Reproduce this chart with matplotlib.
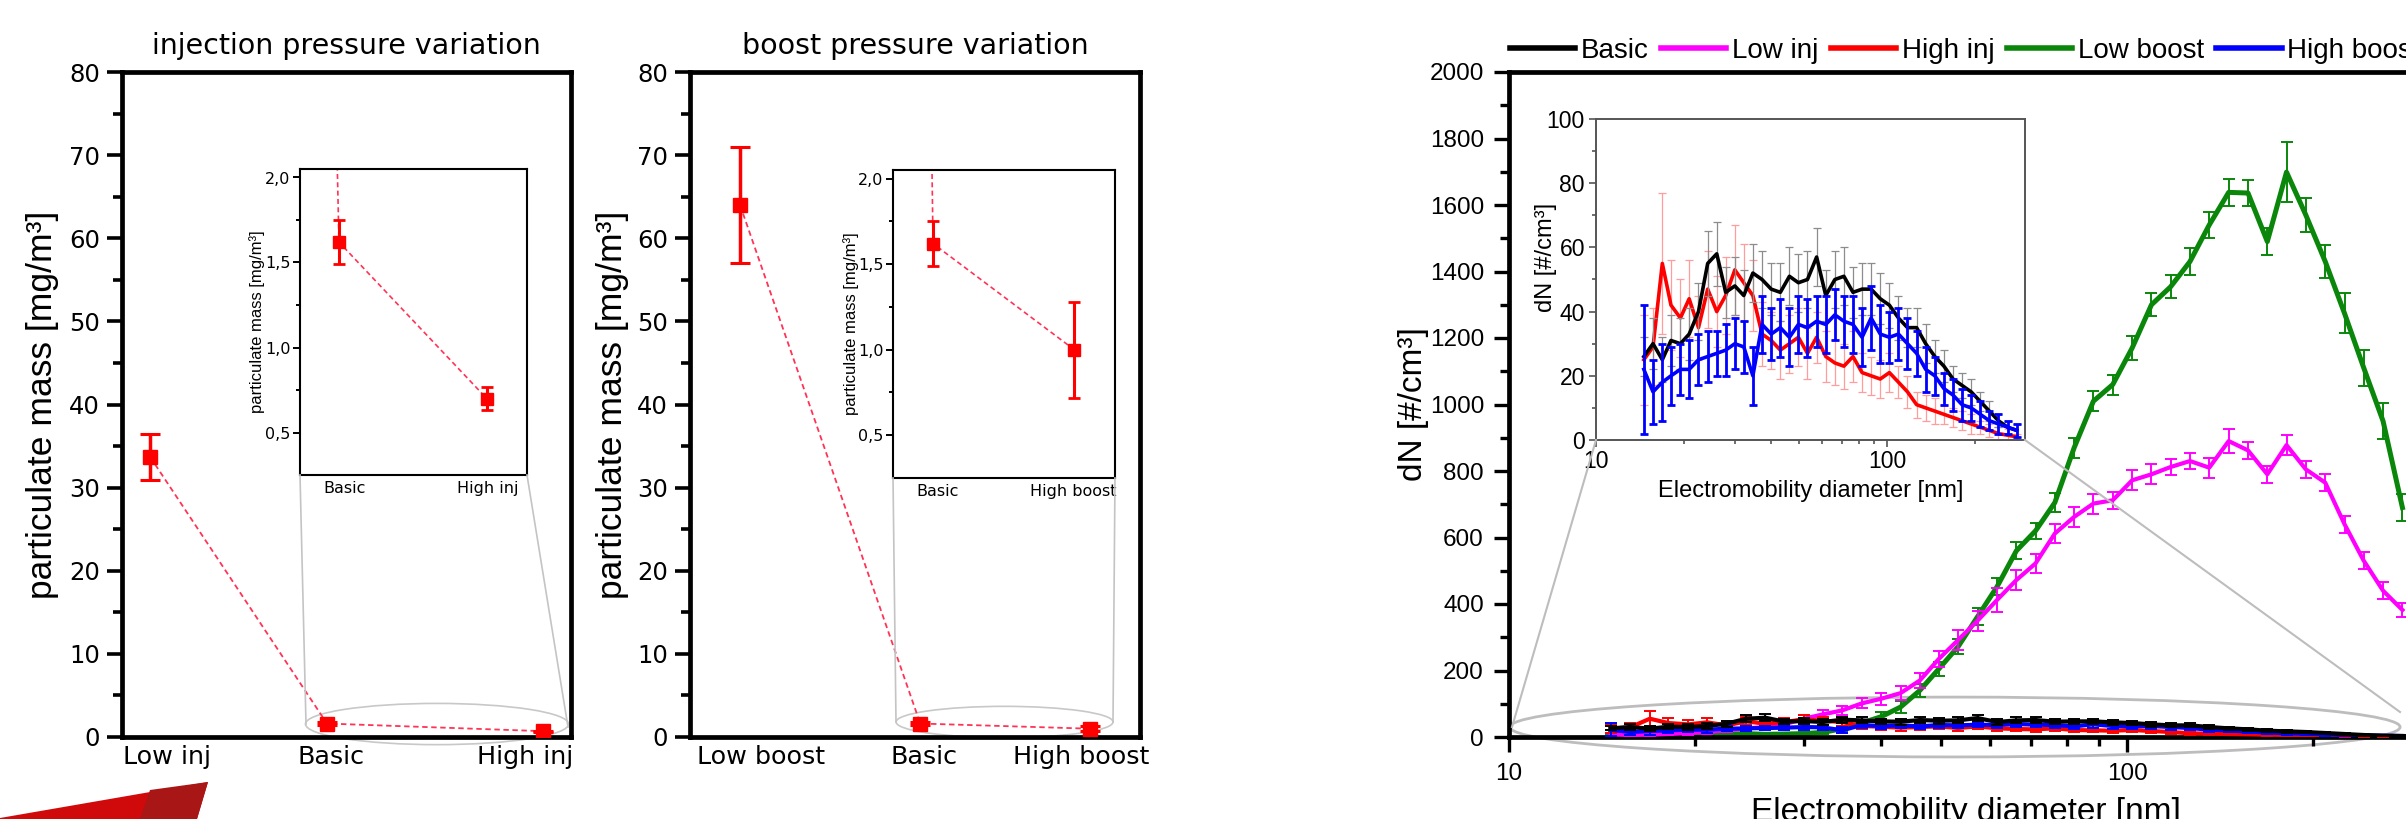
import matplotlib
matplotlib.use('Agg')
import matplotlib.pyplot as plt
from matplotlib.patches import Ellipse, Polygon
from matplotlib.lines import Line2D
from matplotlib.ticker import MultipleLocator, FixedLocator, FuncFormatter, NullFormatter

plt.rcParams['font.family'] = ['DejaVu Sans']

# ---------------- data ----------------
inj_labels = ['Low inj', 'Basic', 'High inj']
inj_x = [1.0, 1.9, 3.0]
inj_mass = [33.7, 1.62, 0.70]
inj_err = [2.8, 0.13, 0.07]

boost_labels = ['Low boost', 'Basic', 'High boost']
boost_x = [1.0, 2.03, 3.0]
boost_mass = [64.0, 1.62, 1.00]
boost_err = [7.0, 0.13, 0.28]

diam = [14.6, 15.7, 16.9, 18.1, 19.5, 20.9, 22.5, 24.2, 26.0, 27.9,
        30.0, 32.2, 34.6, 37.2, 40.0, 43.0, 46.2, 49.6, 53.3, 57.3,
        61.6, 66.2, 71.1, 76.4, 82.1, 88.2, 94.8, 101.9, 109.5, 117.6,
        126.4, 135.8, 146.0, 156.9, 168.6, 181.1, 194.6, 209.2, 224.8, 241.5,
        259.5, 278.9]

dn_basic = [26, 30, 25, 31, 30, 33, 40, 55, 58, 46,
            48, 45, 52, 50, 47, 46, 51, 49, 50, 57,
            45, 50, 51, 46, 47, 47, 44, 42, 38, 35,
            35, 30, 26, 23, 19, 17, 15, 12, 9, 6,
            4, 3]
dn_basic_err = [6, 8, 7, 8, 8, 8, 9, 10, 10, 8,
                9, 8, 9, 9, 8, 9, 9, 9, 9, 9,
                8, 9, 9, 8, 8, 8, 8, 7, 7, 6,
                6, 6, 5, 5, 4, 4, 4, 3, 3, 2,
                2, 2]

dn_low_inj = [8, 6, 7, 9, 12, 15, 20, 26, 30, 38,
              55, 68, 80, 101, 115, 132, 170, 235, 292, 350,
              412, 472, 522, 612, 662, 702, 712, 772, 790, 812,
              830, 810, 890, 862, 790, 878, 805, 765, 640, 530,
              440, 382]
dn_low_inj_err = [4, 4, 4, 4, 5, 5, 5, 6, 6, 8,
                  10, 12, 14, 15, 18, 20, 22, 25, 30, 30,
                  35, 30, 28, 30, 30, 30, 25, 30, 30, 25,
                  25, 30, 35, 25, 25, 30, 25, 25, 25, 25,
                  25, 20]

dn_high_inj = [25, 29, 55, 42, 38, 44, 35, 47, 40, 45,
               53, 49, 45, 33, 31, 28, 30, 32, 27, 32,
               26, 24, 23, 26, 21, 20, 19, 21, 18, 15,
               11, 10, 9, 8, 7, 6, 5, 4, 3, 2,
               1.5, 1]
dn_high_inj_err = [14, 12, 22, 14, 12, 12, 10, 12, 11, 12,
                   14, 12, 11, 10, 9, 9, 9, 9, 8, 8,
                   8, 7, 7, 8, 6, 6, 6, 6, 5, 5,
                   4, 4, 4, 3, 3, 3, 3, 2, 2, 2,
                   2, 1]

dn_low_boost = [15, 12, 14, 10, 10, 12, 9, 10, 8, 9,
                10, 14, 25, 42, 61, 90, 140, 205, 272, 362,
                452, 560, 620, 705, 870, 1010, 1060, 1170, 1300, 1354,
                1430, 1540, 1638, 1636, 1490, 1699, 1570, 1430, 1274, 1110,
                950, 690]
dn_low_boost_err = [5, 5, 5, 4, 4, 4, 4, 4, 4, 4,
                    5, 6, 8, 10, 15, 18, 20, 22, 22, 25,
                    25, 25, 25, 28, 30, 30, 30, 35, 35, 35,
                    40, 40, 40, 40, 40, 90, 50, 50, 60, 55,
                    55, 40]

dn_high_boost = [22, 15, 18, 20, 22, 22, 25, 26, 27, 28,
                 30, 29, 20, 36, 33, 35, 32, 36, 35, 37,
                 36, 39, 37, 36, 32, 38, 33, 32, 33, 30,
                 27, 22, 20, 16, 14, 11, 10, 8, 6, 5,
                 4, 3]
dn_high_boost_err = [20, 10, 12, 9, 8, 9, 8, 8, 7, 8,
                     8, 8, 9, 9, 8, 9, 9, 9, 9, 8,
                     9, 8, 8, 9, 9, 10, 9, 8, 8, 8,
                     7, 7, 6, 5, 5, 5, 4, 4, 3, 3,
                     2, 2]

series_names = ['Basic', 'Low inj', 'High inj', 'Low boost', 'High boost']
series_colors = ['#000000', '#ff00ff', '#ff0000', '#0a870a', '#0000ff']

# ---------------- figure ----------------
W, H = 2406, 819
fig = plt.figure(figsize=(W / 100, H / 100), dpi=100)
fig.patch.set_facecolor('white')


def rect(x0, y0, x1, y1):
    return [x0 / W, 1 - y1 / H, (x1 - x0) / W, (y1 - y0) / H]


def fig_line(p0, p1, color='#c4c4c4', lw=1.2):
    fig.add_artist(Line2D([p0[0] / W, p1[0] / W], [1 - p0[1] / H, 1 - p1[1] / H],
                          transform=fig.transFigure, color=color, lw=lw, zorder=5))


def comma(v, pos):
    return f'{v:.1f}'.replace('.', ',')


def left_panel(box, ibox, title, labels, xs, ys, es, lab_pos, xlim, ixlim,
               ilab_pos, ell, conn, ylab_x, iylab_x):
    ax = fig.add_axes(rect(*box))
    ax.plot(xs, ys, ls=(0, (3, 2)), color='#ff3355', lw=1.3, zorder=2)
    ax.errorbar(xs, ys, yerr=es, fmt='s', color='#ff0000', ms=10,
                elinewidth=2.5, capsize=7, capthick=2.2, zorder=3)
    ax.set_xlim(*xlim)
    ax.set_ylim(0, 80)
    ax.set_xticks(lab_pos)
    ax.set_xticklabels(labels)
    ax.yaxis.set_major_locator(MultipleLocator(10))
    ax.yaxis.set_minor_locator(MultipleLocator(5))
    ax.tick_params(axis='y', which='major', direction='out', length=11, width=2.6,
                   labelsize=17.5, pad=5)
    ax.tick_params(axis='y', which='minor', direction='out', length=6.5, width=2.6)
    ax.tick_params(axis='x', length=0, labelsize=18.3, pad=6)
    for s in ax.spines.values():
        s.set_linewidth(3.4)
    ax.set_ylabel('particulate mass [mg/m³]', family='Liberation Sans', fontsize=25.5)
    ax.yaxis.set_label_coords(ylab_x, 0.5)
    ax.set_title(title, fontsize=20.5, pad=13)
    ax.add_patch(Ellipse(ell[:2], ell[2], ell[3], transform=ax.transAxes, fill=False,
                         ec='#c8c8c8', lw=1.2, clip_on=False, zorder=1))

    ai = fig.add_axes(rect(*ibox))
    ai.plot(xs, ys, ls=(0, (3, 2)), color='#ff3355', lw=1.2, zorder=2)
    ai.errorbar(xs, ys, yerr=es, fmt='s', color='#ff0000', ms=9,
                elinewidth=2.2, capsize=4.5, capthick=2, zorder=3)
    ai.set_xlim(*ixlim)
    ai.set_ylim(0.25, 2.05)
    ai.set_xticks(ilab_pos)
    ai.set_xticklabels(labels[1:])
    ai.yaxis.set_major_locator(FixedLocator([0.5, 1.0, 1.5, 2.0]))
    ai.yaxis.set_minor_locator(FixedLocator([0.75, 1.25, 1.75]))
    ai.yaxis.set_major_formatter(FuncFormatter(comma))
    ai.tick_params(axis='y', which='major', direction='out', length=5, width=1.4,
                   labelsize=11.5, pad=2)
    ai.tick_params(axis='y', which='minor', direction='out', length=3, width=1.4)
    ai.tick_params(axis='x', length=0, labelsize=11.5, pad=4)
    for s in ai.spines.values():
        s.set_linewidth(1.5)
    ai.set_ylabel('particulate mass [mg/m³]', family='Liberation Sans', fontsize=12)
    ai.yaxis.set_label_coords(iylab_x, 0.5)
    for p0, p1 in conn:
        fig_line(p0, p1)
    return ax, ai


left_panel((122, 72, 571, 737), (300, 169, 527, 475), 'injection pressure variation',
           inj_labels, inj_x, inj_mass, inj_err, [1.087, 1.92, 2.91],
           (0.857, 3.142), (1.61, 3.30), [1.94, 3.01],
           (0.7016, 0.0195, 0.586, 0.062),
           [((300, 475), (306, 724)), ((527, 475), (568, 727))], -0.140, -0.154)

left_panel((690, 72, 1140, 737), (893, 170, 1115, 478), 'boost pressure variation',
           boost_labels, boost_x, boost_mass, boost_err, [1.12, 2.05, 2.95],
           (0.714, 3.286), (1.755, 3.28), [2.06, 2.99],
           (0.699, 0.0226, 0.482, 0.047),
           [((893, 478), (896, 722)), ((1115, 478), (1113, 722))], -0.136, -0.153)

# ---------------- number size distribution ----------------
RF = 'Liberation Sans'
ax3 = fig.add_axes(rect(1509, 72, 2422, 737))
ax3.set_xscale('log')
main_series = [
    (dn_low_boost, dn_low_boost_err, series_colors[3], 3.6, 2),
    (dn_low_inj, dn_low_inj_err, series_colors[1], 3.0, 3),
    (dn_high_inj, dn_high_inj_err, series_colors[2], 3.0, 4),
    (dn_high_boost, dn_high_boost_err, series_colors[4], 3.0, 5),
    (dn_basic, dn_basic_err, series_colors[0], 3.0, 6),
]
for vals, errs, col, lw, z in main_series:
    ax3.errorbar(diam, vals, yerr=errs, color=col, lw=lw, elinewidth=1.4,
                 capsize=4, capthick=1.4, zorder=z)
ax3.set_xlim(10, 300)
ax3.set_ylim(0, 2000)
ax3.xaxis.set_major_locator(FixedLocator([10, 100]))
ax3.xaxis.set_minor_locator(FixedLocator([20, 30, 40, 50, 60, 70, 80, 90, 200, 300]))
ax3.xaxis.set_major_formatter(FuncFormatter(lambda v, p: f'{v:g}'))
ax3.xaxis.set_minor_formatter(NullFormatter())
ax3.yaxis.set_major_locator(MultipleLocator(200))
ax3.yaxis.set_minor_locator(MultipleLocator(100))
ax3.tick_params(which='major', direction='out', length=11, width=2.4, labelsize=17.5)
ax3.tick_params(which='minor', direction='out', length=6.5, width=2.4)
ax3.tick_params(axis='y', pad=7)
ax3.tick_params(axis='x', pad=8)
for lab in ax3.get_xticklabels() + ax3.get_yticklabels():
    lab.set_family(RF)
for s in ax3.spines.values():
    s.set_linewidth(3.4)
ax3.set_ylabel('dN [#/cm³]', family=RF, fontsize=24)
ax3.yaxis.set_label_coords(-0.088, 0.5)
ax3.set_xlabel('Electromobility diameter [nm]', family=RF, fontsize=24, va='top')
ax3.xaxis.set_label_coords(0.5, -0.090)
ax3.add_patch(Ellipse((0.4885, 0.015), 0.975, 0.09, transform=ax3.transAxes, fill=False,
                      ec='#bdbdbd', lw=2.0, clip_on=False, zorder=1))

ai3 = fig.add_axes(rect(1596, 119, 2025, 440))
ai3.set_xscale('log')
inset_series = [
    (dn_high_inj, dn_high_inj_err, series_colors[2], '#ff9c9c', 0.9, 2),
    (dn_basic, dn_basic_err, series_colors[0], '#8c8c8c', 0.9, 3),
    (dn_high_boost, dn_high_boost_err, series_colors[4], series_colors[4], 2.0, 4),
]
for vals, errs, col, ecol, elw, z in inset_series:
    ai3.errorbar(diam, vals, yerr=errs, color=col, lw=2.6, ecolor=ecol, elinewidth=elw,
                 capsize=3, capthick=elw, zorder=z)
ai3.set_xlim(10, 298)
ai3.set_ylim(0, 100)
ai3.xaxis.set_major_locator(FixedLocator([10, 100]))
ai3.xaxis.set_minor_locator(FixedLocator([20, 30, 40, 50, 60, 70, 80, 90, 200]))
ai3.xaxis.set_major_formatter(FuncFormatter(lambda v, p: f'{v:g}'))
ai3.xaxis.set_minor_formatter(NullFormatter())
ai3.yaxis.set_major_locator(MultipleLocator(20))
ai3.yaxis.set_minor_locator(MultipleLocator(10))
ai3.tick_params(which='major', direction='out', length=5, width=1.2, labelsize=16.5,
                color='#555555')
ai3.tick_params(which='minor', direction='out', length=3, width=1.2, color='#555555')
ai3.tick_params(axis='x', pad=2)
ai3.tick_params(axis='y', pad=3)
for lab in ai3.get_xticklabels() + ai3.get_yticklabels():
    lab.set_family(RF)
for s in ai3.spines.values():
    s.set_linewidth(1.4)
    s.set_color('#555555')
ai3.set_ylabel('dN [#/cm³]', family=RF, fontsize=17)
ai3.yaxis.set_label_coords(-0.091, 0.57)
ai3.set_xlabel('Electromobility diameter [nm]', family=RF, fontsize=17, va='top')
ai3.xaxis.set_label_coords(0.5, -0.125)
fig_line((1596, 440), (1512, 727), color='#bdbdbd', lw=1.5)
fig_line((2025, 440), (2400, 712), color='#bdbdbd', lw=1.5)

handles = [Line2D([], [], color=c, lw=4) for c in series_colors]
fig.legend(handles, series_names, loc='center left', bbox_to_anchor=(1510 / W, 1 - 51 / H),
           ncol=5, frameon=False, prop={'family': RF, 'size': 20}, handlelength=2.35,
           handletextpad=0.2, columnspacing=0.45, borderpad=0, borderaxespad=0)

# decorative red logo wedge at bottom left
fig.add_artist(Polygon([(0, 1 - 818 / H), (208 / W, 1 - 782 / H), (197 / W, 0), (0, 0)],
                       closed=True, transform=fig.transFigure, fc='#d00a0a', ec='none'))
fig.add_artist(Polygon([(150 / W, 1 - 790 / H), (208 / W, 1 - 782 / H), (197 / W, 0), (140 / W, 0)],
                       closed=True, transform=fig.transFigure, fc='#a81616', ec='none'))

fig.savefig('out.png', dpi=100, facecolor='white')
